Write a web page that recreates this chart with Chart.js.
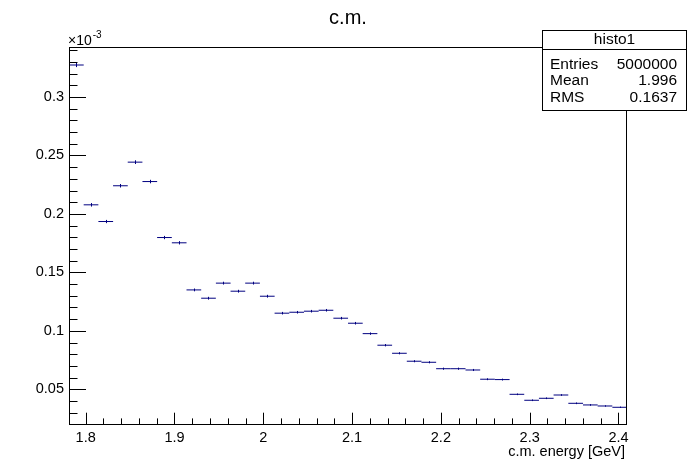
<!DOCTYPE html>
<html>
<head>
<meta charset="utf-8">
<script src="https://cdn.jsdelivr.net/npm/chart.js@4"></script>
<style>
  html, body { margin: 0; padding: 0; background: #fff; }
</style>
</head>
<body>
<canvas id="histo" width="696" height="472"></canvas>
<script>
// bin centres of histo1 (GeV)
var binCenters = [1.7895, 1.8060, 1.8226, 1.8391, 1.8556, 1.8722, 1.8887, 1.9053, 1.9218, 1.9383,
                  1.9549, 1.9714, 1.9879, 2.0045, 2.0210, 2.0376, 2.0541, 2.0706, 2.0872, 2.1037,
                  2.1202, 2.1368, 2.1533, 2.1699, 2.1864, 2.2029, 2.2195, 2.2360, 2.2525, 2.2691,
                  2.2856, 2.3022, 2.3187, 2.3352, 2.3518, 2.3683, 2.3848, 2.4014];
// bin contents, in units of 1e-3
var counts = [0.3274, 0.2078, 0.1935, 0.2241, 0.2443, 0.2277, 0.1798, 0.1753, 0.1350, 0.1279,
              0.1408, 0.1339, 0.1408, 0.1296, 0.1151, 0.1159, 0.1168, 0.1176, 0.1108, 0.1065,
              0.0976, 0.0877, 0.0808, 0.0740, 0.0731, 0.0676, 0.0676, 0.0665, 0.0586, 0.0583,
              0.0457, 0.0406, 0.0423, 0.0451, 0.0380, 0.0366, 0.0357, 0.0346];
// small error bars (same units)
var errors = [0.0018, 0.0015, 0.0014, 0.0015, 0.0016, 0.0015, 0.0014, 0.0014, 0.0012, 0.0012,
              0.0012, 0.0012, 0.0012, 0.0012, 0.0011, 0.0011, 0.0011, 0.0011, 0.0011, 0.0011,
              0.0010, 0.0010, 0.0009, 0.0009, 0.0009, 0.0009, 0.0009, 0.0009, 0.0008, 0.0008,
              0.0007, 0.0007, 0.0007, 0.0007, 0.0007, 0.0007, 0.0006, 0.0006];

var xTicks = [1.8, 1.9, 2.0, 2.1, 2.2, 2.3, 2.4];
var yTicks = [0.05, 0.1, 0.15, 0.2, 0.25, 0.3];
var statsRows = [['Entries', '5000000'], ['Mean', '1.996'], ['RMS', '0.1637']];

var binWidth = 0.016537;
var xMin = 1.7812, xMax = 2.4096;
var yMin = 0.0203, yMax = 0.3428;
var fontFam = "'Liberation Sans', Arial, Helvetica, sans-serif";
var lineColor = '#000080';

var points = [];
for (var i = 0; i < binCenters.length; i++) {
  points.push({x: binCenters[i], y: counts[i]});
}

// frame, inward ticks, error bars, texts and the stats box (ROOT look)
var rootStyle = {
  id: 'rootStyle',
  afterDraw: function(chart) {
    var ctx = chart.ctx;
    var a = chart.chartArea;
    var xs = chart.scales.x, ys = chart.scales.y;
    ctx.save();
    ctx.lineWidth = 1;

    // error bars
    ctx.strokeStyle = lineColor;
    ctx.beginPath();
    for (var i = 0; i < counts.length; i++) {
      var px = Math.round(xs.getPixelForValue(binCenters[i])) + 0.5;
      ctx.moveTo(px, ys.getPixelForValue(counts[i] - errors[i]));
      ctx.lineTo(px, ys.getPixelForValue(counts[i] + errors[i]));
    }
    ctx.stroke();

    // frame
    ctx.strokeStyle = '#000';
    ctx.strokeRect(a.left + 0.5, a.top + 0.5, a.right - a.left - 1, a.bottom - a.top);

    ctx.beginPath();
    // y ticks
    var k, v, p;
    for (k = Math.ceil(yMin / 0.01 - 1e-6); k * 0.01 <= yMax + 1e-9; k++) {
      p = Math.round(ys.getPixelForValue(k * 0.01)) + 0.5;
      ctx.moveTo(a.left, p);
      ctx.lineTo(a.left + (k % 5 === 0 ? 17 : 8.5), p);
    }
    // x ticks
    for (k = Math.ceil(xMin / 0.02 - 1e-6); k * 0.02 <= xMax + 1e-9; k++) {
      p = Math.round(xs.getPixelForValue(k * 0.02)) + 0.5;
      ctx.moveTo(p, a.bottom);
      ctx.lineTo(p, a.bottom - (k % 5 === 0 ? 11.3 : 5.6));
    }
    ctx.stroke();

    ctx.fillStyle = '#000';
    // title
    ctx.font = '20px ' + fontFam;
    ctx.textAlign = 'center';
    ctx.textBaseline = 'middle';
    ctx.fillText('c.m.', 348, 18);

    // exponent label
    ctx.textAlign = 'left';
    ctx.textBaseline = 'alphabetic';
    ctx.font = '14px ' + fontFam;
    ctx.fillText('\u00d710', 68, 45);
    var w10 = ctx.measureText('\u00d710').width;
    ctx.font = '10px ' + fontFam;
    ctx.fillText('-3', 68 + w10 + 1, 38);

    // x axis title
    ctx.font = '14.5px ' + fontFam;
    ctx.textAlign = 'right';
    ctx.fillText('c.m. energy [GeV]', 625, 456);

    // stats box
    var bx = 542.5, by = 30.5, bw = 144, bh = 80;
    ctx.fillStyle = '#fff';
    ctx.fillRect(bx, by, bw, bh);
    ctx.strokeRect(bx, by, bw, bh);
    ctx.beginPath();
    ctx.moveTo(bx, 49.5);
    ctx.lineTo(bx + bw, 49.5);
    ctx.stroke();
    ctx.fillStyle = '#000';
    ctx.font = '15.5px ' + fontFam;
    ctx.textAlign = 'center';
    ctx.textBaseline = 'middle';
    ctx.fillText('histo1', 614.5, 40);
    for (var r = 0; r < statsRows.length; r++) {
      var ry = 64.5 + r * 16.5;
      ctx.textAlign = 'left';
      ctx.fillText(statsRows[r][0], 550, ry);
      ctx.textAlign = 'right';
      ctx.fillText(statsRows[r][1], 677, ry);
    }
    ctx.restore();
  }
};

var ctx = document.getElementById('histo').getContext('2d');
var histoChart = new Chart(ctx, {
  type: 'scatter',
  data: {
    datasets: [{
      label: 'histo1',
      data: points,
      showLine: false,
      pointStyle: 'line',
      borderColor: lineColor,
      backgroundColor: lineColor,
      borderWidth: 1,
      pointRadius: function(c) {
        var s = c.chart.scales.x;
        return (s.getPixelForValue(xMin + binWidth) - s.getPixelForValue(xMin)) / 2;
      }
    }]
  },
  options: {
    responsive: false,
    animation: false,
    events: [],
    devicePixelRatio: 1,
    layout: { padding: { top: 47, right: 69, left: 0, bottom: 0 } },
    plugins: {
      legend: { display: false },
      tooltip: { enabled: false }
    },
    scales: {
      x: {
        type: 'linear',
        position: 'bottom',
        min: xMin,
        max: xMax,
        grid: { display: false, drawTicks: false },
        border: { display: false },
        ticks: {
          color: '#000',
          font: { family: fontFam, size: 14.5 },
          padding: 5,
          maxRotation: 0,
          minRotation: 0,
          autoSkip: false,
          callback: function(v) { return String(parseFloat(v.toFixed(1))); }
        },
        afterBuildTicks: function(s) { s.ticks = xTicks.map(function(v) { return {value: v}; }); },
        afterFit: function(s) { s.height = 48; }
      },
      y: {
        type: 'linear',
        min: yMin,
        max: yMax,
        grid: { display: false, drawTicks: false },
        border: { display: false },
        ticks: {
          color: '#000',
          font: { family: fontFam, size: 14.5 },
          padding: 5,
          autoSkip: false,
          callback: function(v) { return String(parseFloat(v.toFixed(2))); }
        },
        afterBuildTicks: function(s) { s.ticks = yTicks.map(function(v) { return {value: v}; }); },
        afterFit: function(s) { s.width = 69; }
      }
    }
  },
  plugins: [rootStyle]
});
</script>
</body>
</html>
